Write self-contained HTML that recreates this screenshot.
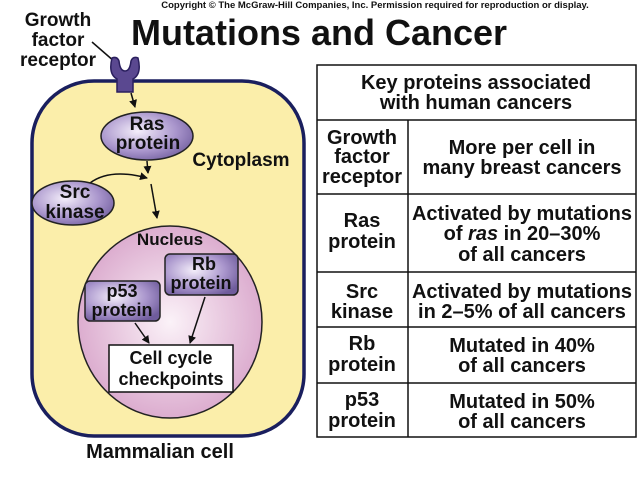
<!DOCTYPE html>
<html><head><meta charset="utf-8"><style>
html,body{margin:0;padding:0;background:#fff;}
svg{display:block;}
text{font-family:"Liberation Sans",Arial,sans-serif;font-weight:bold;fill:#111;}
</style></head><body>
<svg width="641" height="482" viewBox="0 0 641 482" xmlns="http://www.w3.org/2000/svg">
<defs>
<radialGradient id="pg" cx="40%" cy="40%" r="70%"><stop offset="0" stop-color="#f4eefa"/><stop offset="0.6" stop-color="#a995cc"/><stop offset="1" stop-color="#6f5c9c"/></radialGradient>
<radialGradient id="ng" cx="50%" cy="50%" r="55%"><stop offset="0" stop-color="#fbf2f8"/><stop offset="1" stop-color="#d9a6cb"/></radialGradient>
<marker id="ar" markerWidth="8" markerHeight="8" refX="7" refY="4" orient="auto" markerUnits="userSpaceOnUse"><path d="M0,0 L8,4 L0,8 Z" fill="#111"/></marker>
</defs>
<text x="375" y="8" font-size="9.5" text-anchor="middle">Copyright © The McGraw-Hill Companies, Inc. Permission required for reproduction or display.</text>
<text x="319" y="45" font-size="36" text-anchor="middle">Mutations and Cancer</text>
<text x="58" y="26" font-size="19" text-anchor="middle">Growth</text>
<text x="58" y="46" font-size="19" text-anchor="middle">factor</text>
<text x="58" y="66" font-size="19" text-anchor="middle">receptor</text>
<line x1="92" y1="42" x2="115" y2="62" stroke="#111" stroke-width="1.5"/>
<rect x="32" y="81" width="272" height="355" rx="62" fill="#fbeeaa" stroke="#1a1f5e" stroke-width="3.5"/>
<path d="M112,58 Q108,74 117,79 L117,92 L133,92 L133,79 Q142,74 138,58 Q133,56 131,61 Q130,71 125,71 Q120,71 119,61 Q117,56 112,58 Z" fill="#5a4890" stroke="#2a1f5e" stroke-width="1.5"/>
<line x1="131" y1="93" x2="135" y2="107" stroke="#111" stroke-width="1.5" marker-end="url(#ar)"/>
<ellipse cx="147" cy="136" rx="46" ry="24" fill="url(#pg)" stroke="#222" stroke-width="1.5"/>
<text x="147" y="130" font-size="19" text-anchor="middle">Ras</text>
<text x="148" y="149" font-size="19" text-anchor="middle">protein</text>
<text x="241" y="166" font-size="19" text-anchor="middle">Cytoplasm</text>
<line x1="147" y1="161" x2="148" y2="173" stroke="#111" stroke-width="1.5" marker-end="url(#ar)"/>
<path d="M90,183 Q110,168 147,178" fill="none" stroke="#111" stroke-width="1.5" marker-end="url(#ar)"/>
<line x1="151" y1="184" x2="157" y2="218" stroke="#111" stroke-width="1.5" marker-end="url(#ar)"/>
<ellipse cx="73" cy="203" rx="41" ry="22" fill="url(#pg)" stroke="#222" stroke-width="1.5"/>
<text x="75" y="198" font-size="19" text-anchor="middle">Src</text>
<text x="75" y="218" font-size="19" text-anchor="middle">kinase</text>
<ellipse cx="170" cy="322" rx="92" ry="96" fill="url(#ng)" stroke="#222" stroke-width="1.5"/>
<text x="170" y="245" font-size="17" text-anchor="middle">Nucleus</text>
<rect x="165" y="254" width="73" height="41" rx="5" fill="url(#pg)" stroke="#222" stroke-width="1.5"/>
<text x="204" y="270" font-size="18" text-anchor="middle">Rb</text>
<text x="201" y="289" font-size="18" text-anchor="middle">protein</text>
<rect x="85" y="281" width="75" height="40" rx="5" fill="url(#pg)" stroke="#222" stroke-width="1.5"/>
<text x="122" y="297" font-size="18" text-anchor="middle">p53</text>
<text x="122" y="316" font-size="18" text-anchor="middle">protein</text>
<line x1="135" y1="323" x2="149" y2="343" stroke="#111" stroke-width="1.5" marker-end="url(#ar)"/>
<line x1="205" y1="297" x2="190" y2="343" stroke="#111" stroke-width="1.5" marker-end="url(#ar)"/>
<rect x="109" y="345" width="124" height="47" fill="#fff" stroke="#111" stroke-width="1.5"/>
<text x="171" y="364" font-size="18" text-anchor="middle">Cell cycle</text>
<text x="171" y="385" font-size="18" text-anchor="middle">checkpoints</text>
<text x="160" y="458" font-size="20" text-anchor="middle">Mammalian cell</text>
<g stroke="#111" stroke-width="1.5" fill="none">
<rect x="317" y="65" width="319" height="372" fill="#fff"/>
<line x1="317" y1="120" x2="636" y2="120"/>
<line x1="317" y1="194" x2="636" y2="194"/>
<line x1="317" y1="272" x2="636" y2="272"/>
<line x1="317" y1="327" x2="636" y2="327"/>
<line x1="317" y1="383" x2="636" y2="383"/>
<line x1="408" y1="120" x2="408" y2="437"/>
</g>
<g font-size="20" text-anchor="middle">
<text x="476" y="89">Key proteins associated</text>
<text x="476" y="109">with human cancers</text>
<text x="362" y="144">Growth</text>
<text x="362" y="163">factor</text>
<text x="362" y="183">receptor</text>
<text x="522" y="154">More per cell in</text>
<text x="522" y="174">many breast cancers</text>
<text x="362" y="227">Ras</text>
<text x="362" y="248">protein</text>
<text x="522" y="220">Activated by mutations</text>
<text x="522" y="240">of <tspan font-style="italic">ras</tspan> in 20–30%</text>
<text x="522" y="261">of all cancers</text>
<text x="362" y="298">Src</text>
<text x="362" y="318">kinase</text>
<text x="522" y="298">Activated by mutations</text>
<text x="522" y="318">in 2–5% of all cancers</text>
<text x="362" y="350">Rb</text>
<text x="362" y="371">protein</text>
<text x="522" y="352">Mutated in 40%</text>
<text x="522" y="372">of all cancers</text>
<text x="362" y="406">p53</text>
<text x="362" y="427">protein</text>
<text x="522" y="408">Mutated in 50%</text>
<text x="522" y="428">of all cancers</text>
</g>
</svg>
</body></html>
